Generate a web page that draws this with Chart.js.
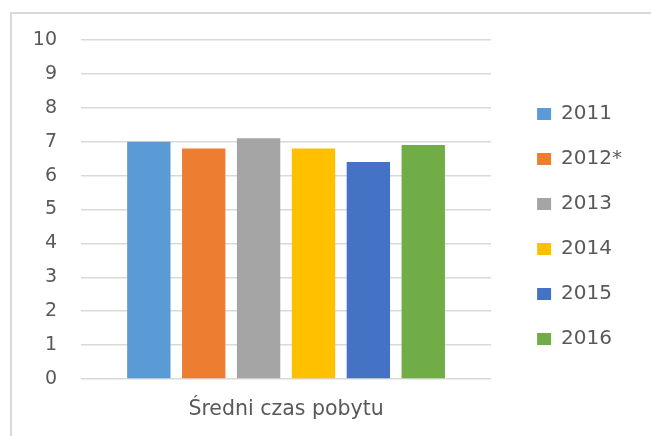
<!DOCTYPE html>
<html lang="pl">
<head>
<meta charset="utf-8">
<title>Średni czas pobytu</title>
<script src="https://cdn.jsdelivr.net/npm/chart.js@4/dist/chart.umd.min.js"></script>
<style>
  html, body { margin: 0; padding: 0; background: #fff; }
  #wrap { position: relative; width: 651px; height: 436px; }
</style>
</head>
<body>
<div id="wrap"><canvas id="bar-chart" width="651" height="436"></canvas></div>
<script>
const categories = ['Średni czas pobytu'];
const years = ['2011', '2012*', '2013', '2014', '2015', '2016'];
const values = [7.0, 6.8, 7.1, 6.8, 6.4, 6.9];
const colors = ['#5B9BD5', '#ED7D31', '#A5A5A5', '#FFC000', '#4472C4', '#70AD47'];
const yTicks = [0, 1, 2, 3, 4, 5, 6, 7, 8, 9, 10];

const FONT = "'DejaVu Sans', sans-serif";
const TEXT = '#595959';

// light frame round the chart, like the Excel chart area border
const frame = {
  id: 'frame',
  beforeDraw(chart) {
    const c = chart.ctx;
    c.save();
    c.strokeStyle = '#d9d9d9';
    c.lineWidth = 2;
    c.strokeRect(11, 13, 800, 600);
    c.restore();
  },
};

// push the legend a bit away from the plot and up
const legendNudge = {
  id: 'legendNudge',
  afterLayout(chart) {
    const l = chart.legend;
    l.left += 21;
    l.right += 21;
    l.top -= 11.5;
    l.bottom -= 11.5;
  },
};

const ctx = document.getElementById('bar-chart').getContext('2d');

new Chart(ctx, {
  type: 'bar',
  data: {
    labels: categories,
    datasets: years.map((y, i) => ({
      label: y,
      data: [values[i]],
      backgroundColor: colors[i],
      borderWidth: 0,
      barPercentage: 0.79,
      categoryPercentage: 0.803,
    })),
  },
  options: {
    responsive: false,
    animation: false,
    layout: {
      padding: { left: 0, top: 40, right: 40, bottom: 0 },
    },
    plugins: {
      legend: {
        position: 'right',
        labels: {
          color: TEXT,
          font: { family: FONT, size: 20 },
          boxWidth: 14,
          boxHeight: 12,
          padding: 25,
        },
      },
      tooltip: { enabled: false },
      title: { display: false },
    },
    scales: {
      x: {
        afterFit(scale) {
          scale.height = 57;
        },
        grid: { display: false, drawTicks: false },
        border: { display: false },
        ticks: {
          color: TEXT,
          font: { family: FONT, size: 20.5 },
          padding: 18.7,
        },
      },
      y: {
        min: 0,
        max: 10,
        afterFit(scale) {
          scale.width = 81;
        },
        afterBuildTicks(scale) {
          scale.ticks = yTicks.map(v => ({ value: v }));
        },
        grid: {
          color: '#d9d9d9',
          lineWidth: 1.5,
          drawTicks: false,
        },
        border: { display: false },
        ticks: {
          color: TEXT,
          font: { family: FONT, size: 19 },
          padding: 24,
        },
      },
    },
  },
  plugins: [frame, legendNudge],
});
</script>
</body>
</html>
